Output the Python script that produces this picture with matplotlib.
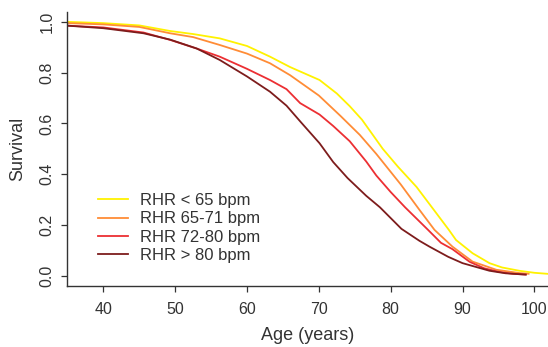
import matplotlib.pyplot as plt

plt.rcParams['font.family'] = ['Liberation Sans', 'DejaVu Sans']

# Kaplan-Meier style survival curves
age_lt65 = [35, 40, 45, 49.3, 52.5, 56.2, 60, 63.2, 66, 70.1, 72.5, 74.3, 76, 78.9, 81, 83.6, 86, 88.1,
            89.1, 91.4, 93.75, 95.5, 97.9, 100, 101.8]
surv_lt65 = [1.0, 0.995, 0.986, 0.964, 0.952, 0.935, 0.905, 0.863, 0.822, 0.771, 0.718, 0.668, 0.615, 0.50,
             0.43, 0.35, 0.26, 0.181, 0.141, 0.089, 0.05, 0.033, 0.02, 0.012, 0.008]

age_65_71 = [35, 40, 45, 49.3, 52.5, 56.2, 60, 63.2, 66, 70, 73, 75.7, 78, 81.4, 84, 86.1, 88.6, 91.4,
             94.7, 97.9, 99.2]
surv_65_71 = [0.995, 0.99, 0.98, 0.955, 0.94, 0.909, 0.875, 0.837, 0.79, 0.71, 0.63, 0.555, 0.48, 0.36,
              0.26, 0.181, 0.115, 0.056, 0.024, 0.011, 0.008]

age_72_80 = [35, 40, 45.6, 49.3, 53, 56.2, 60, 63.2, 65.5, 67.4, 70.1, 72, 74.3, 76.6, 78, 80, 82, 85.2, 87,
             88.6, 91, 93, 95, 97, 98.8]
surv_72_80 = [0.985, 0.978, 0.958, 0.929, 0.895, 0.863, 0.815, 0.771, 0.735, 0.68, 0.635, 0.59, 0.53, 0.45,
              0.395, 0.33, 0.27, 0.181, 0.13, 0.105, 0.055, 0.03, 0.016, 0.008, 0.005]

age_gt80 = [35, 40, 45.6, 49.3, 53, 56.2, 60, 63.2, 65.5, 67.5, 70.1, 72, 74, 76.6, 78.5, 81.5, 84,
            85.4, 88, 90, 93.75, 96, 98.8]
surv_gt80 = [0.985, 0.975, 0.955, 0.93, 0.895, 0.85, 0.785, 0.725, 0.67, 0.605, 0.522, 0.448, 0.385,
             0.315, 0.27, 0.185, 0.138, 0.115, 0.075, 0.05, 0.02, 0.01, 0.005]

labels = ["RHR < 65 bpm", "RHR 65-71 bpm", "RHR 72-80 bpm", "RHR > 80 bpm"]
colors = ["#fff200", "#ff8c36", "#ec2f33", "#7d1c1c"]

fig = plt.figure(figsize=(5.48, 3.47), dpi=100)
ax = fig.add_axes([0.123, 0.1758, 0.877, 0.7905])

series = [(age_lt65, surv_lt65), (age_65_71, surv_65_71), (age_72_80, surv_72_80), (age_gt80, surv_gt80)]
for (x, y), lab, c in zip(series, labels, colors):
    ax.plot(x, y, color=c, lw=1.3, label=lab)

ax.set_xlim(35, 101.9)
ax.set_ylim(-0.04, 1.04)
ax.set_xticks([40, 50, 60, 70, 80, 90, 100])
ax.set_yticks([0.0, 0.2, 0.4, 0.6, 0.8, 1.0])
ax.set_yticklabels(["0.0", "0.2", "0.4", "0.6", "0.8", "1.0"], rotation=90, va='center')

for s in ["top", "right"]:
    ax.spines[s].set_visible(False)
for s in ["left", "bottom"]:
    ax.spines[s].set_color("#333333")
    ax.spines[s].set_linewidth(1.0)

ax.tick_params(direction='out', length=4.3, width=0.9, colors="#333333", labelsize=11.5)
ax.tick_params(axis='x', pad=7)
ax.tick_params(axis='y', pad=5)
ax.set_xlabel("Age (years)", fontsize=13, color="#333333", va='center')
ax.set_ylabel("Survival", fontsize=13, color="#333333", va='center')
ax.xaxis.set_label_coords(0.5, -0.182)
ax.yaxis.set_label_coords(-0.103, 0.5)

ax.legend(loc='upper left', bbox_to_anchor=(0.0635, 0.339), frameon=False, fontsize=12,
          borderpad=0, borderaxespad=0, handlelength=1.8, handletextpad=0.72,
          labelspacing=0.2, labelcolor="#333333")

fig.savefig("out.png", dpi=100)
